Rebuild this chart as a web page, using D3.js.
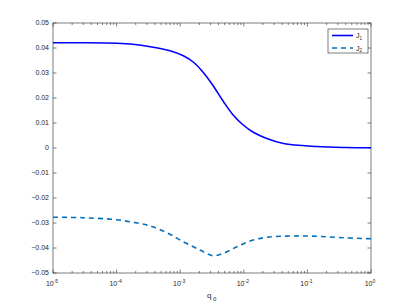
<!DOCTYPE html>
<html>
<head>
<meta charset="utf-8">
<script src="https://cdn.jsdelivr.net/npm/d3@7"></script>
<style>
  body { margin: 0; background: #fff; }
  text { font-family: "Liberation Sans", Arial, sans-serif; fill: #262626; }
</style>
</head>
<body>
<div id="chart"></div>
<script>
// values
const qJ1 = [1e-5, 3.2e-5, 1e-4, 1.8e-4, 3.4e-4, 6.9e-4, 1.12e-3, 1.62e-3, 2.29e-3, 3.3e-3, 4.8e-3, 6.8e-3, 9.8e-3, 1.41e-2, 2.3e-2, 4.2e-2, 0.14, 0.4, 1];
const J1 = [0.0421, 0.0421, 0.0419, 0.0415, 0.0405, 0.0389, 0.0369, 0.0343, 0.0303, 0.0249, 0.0185, 0.0132, 0.0092, 0.0063, 0.0038, 0.0018, 0.0006, 0.0002, 0.0001];

const qJ2 = [1e-5, 3e-5, 1e-4, 2.1e-4, 3.4e-4, 6.2e-4, 1.12e-3, 2.04e-3, 3.3e-3, 4.8e-3, 7.8e-3, 1.26e-2, 2.3e-2, 5.4e-2, 0.14, 0.36, 1];
const J2 = [-0.0277, -0.0279, -0.0287, -0.0300, -0.0312, -0.0339, -0.0375, -0.0408, -0.0431, -0.0421, -0.0395, -0.0372, -0.0357, -0.0352, -0.0353, -0.0359, -0.0363];

const xTickExps = [-5, -4, -3, -2, -1, 0];
const yTicks = [0.05, 0.04, 0.03, 0.02, 0.01, 0, -0.01, -0.02, -0.03, -0.04, -0.05];
const seriesNames = ["1", "2"];

const W = 410, H = 307;
const margin = {top: 23, right: 39, bottom: 34, left: 53};
const width = W - margin.left - margin.right;
const height = H - margin.top - margin.bottom;

const svg = d3.select("#chart")
    .append("svg")
    .attr("width", W)
    .attr("height", H);

const g = svg.append("g")
    .attr("transform", `translate(${margin.left},${margin.top})`);

const x = d3.scaleLog().domain([1e-5, 1]).range([0, width]);
const y = d3.scaleLinear().domain([-0.05, 0.05]).range([height, 0]);

const axisColor = "#262626";

// minor + major ticks on log axis (bottom and top, inward)
const minor = [];
for (let e = -5; e < 0; e++) {
    for (let k = 2; k <= 9; k++) minor.push(k * Math.pow(10, e));
}
const tickG = g.append("g").attr("stroke", axisColor).attr("stroke-width", 0.6);
minor.forEach(v => {
    tickG.append("line").attr("x1", x(v)).attr("x2", x(v)).attr("y1", height).attr("y2", height - 2);
    tickG.append("line").attr("x1", x(v)).attr("x2", x(v)).attr("y1", 0).attr("y2", 2);
});
xTickExps.forEach(e => {
    const v = Math.pow(10, e);
    tickG.append("line").attr("x1", x(v)).attr("x2", x(v)).attr("y1", height).attr("y2", height - 3.5);
    tickG.append("line").attr("x1", x(v)).attr("x2", x(v)).attr("y1", 0).attr("y2", 3.5);
});
yTicks.forEach(v => {
    tickG.append("line").attr("x1", 0).attr("x2", 3.5).attr("y1", y(v)).attr("y2", y(v));
    tickG.append("line").attr("x1", width).attr("x2", width - 3.5).attr("y1", y(v)).attr("y2", y(v));
});

// box
g.append("rect")
    .attr("x", 0).attr("y", 0)
    .attr("width", width).attr("height", height)
    .attr("fill", "none")
    .attr("stroke", axisColor)
    .attr("stroke-width", 0.6);

// y tick labels
g.selectAll(".ylab")
    .data(yTicks)
    .enter()
    .append("text")
    .attr("class", "ylab")
    .attr("x", -4)
    .attr("y", d => y(d))
    .attr("dy", "0.35em")
    .attr("text-anchor", "end")
    .style("font-size", "7px")
    .text(d => d === 0 ? "0" : d3.format(".2f")(d));

// x tick labels 10^e
xTickExps.forEach(e => {
    const t = g.append("text")
        .attr("x", x(Math.pow(10, e)) - 1)
        .attr("y", height + 13)
        .attr("text-anchor", "middle")
        .style("font-size", "7px");
    t.append("tspan").text("10");
    t.append("tspan").attr("dy", -3.5).style("font-size", "5px").text(e);
});

// x axis label q_0
const xl = g.append("text")
    .attr("x", 154)
    .attr("y", height + 25)
    .style("font-size", "8px");
xl.append("tspan").text("q");
xl.append("tspan").attr("dx", 1.5).attr("dy", 2.5).style("font-size", "6px").text("0");

// lines
const line = d3.line()
    .x(d => x(d[0]))
    .y(d => y(d[1]))
    .curve(d3.curveCatmullRom.alpha(0.5));

g.append("path")
    .datum(qJ1.map((q, i) => [q, J1[i]]))
    .attr("fill", "none")
    .attr("stroke", "#0000ff")
    .attr("stroke-width", 1.6)
    .attr("d", line);

g.append("path")
    .datum(qJ2.map((q, i) => [q, J2[i]]))
    .attr("fill", "none")
    .attr("stroke", "#0072bd")
    .attr("stroke-width", 1.6)
    .attr("stroke-dasharray", "5,4")
    .attr("d", line);

// legend
const lg = g.append("g").attr("transform", `translate(${328 - margin.left},${29 - margin.top})`);
lg.append("rect")
    .attr("width", 40).attr("height", 24)
    .attr("fill", "#fff")
    .attr("stroke", axisColor)
    .attr("stroke-width", 0.6);
const legendStyles = [
    {color: "#0000ff", dash: null},
    {color: "#0072bd", dash: "5,4"}
];
seriesNames.forEach((n, i) => {
    const yy = 6.5 + i * 12.5;
    lg.append("line")
        .attr("x1", 4).attr("x2", 25)
        .attr("y1", yy).attr("y2", yy)
        .attr("stroke", legendStyles[i].color)
        .attr("stroke-width", 1.6)
        .attr("stroke-dasharray", legendStyles[i].dash);
    const t = lg.append("text")
        .attr("x", 28).attr("y", yy + 2.5)
        .style("font-size", "7px");
    t.append("tspan").text("J");
    t.append("tspan").attr("dy", 1.5).style("font-size", "4.5px").text(n);
});
</script>
</body>
</html>
